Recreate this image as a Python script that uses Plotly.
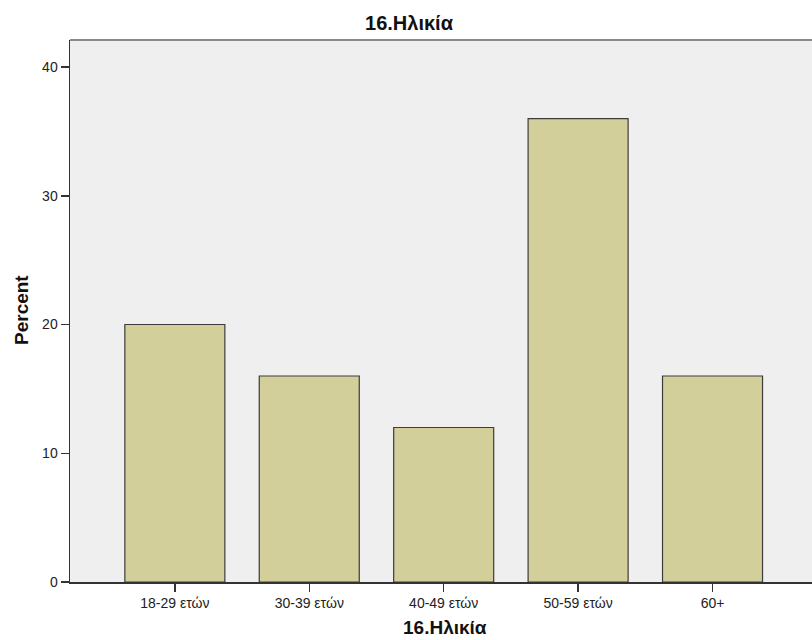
import plotly.graph_objects as go

categories = ["18-29 ετών", "30-39 ετών", "40-49 ετών", "50-59 ετών", "60+"]
percent = [20, 16, 12, 36, 16]
y_ticks = [0, 10, 20, 30, 40]
chart_title = "16.Ηλικία"
x_title = "16.Ηλικία"
y_title = "Percent"

FONT = "Liberation Sans, Arial, sans-serif"

W, H = 812, 640
ML, MT, MB = 70, 40, 58

fig = go.Figure(
    go.Bar(
        x=list(range(len(categories))),
        y=percent,
        width=0.744,
        marker=dict(color="#D3CF9A", line=dict(color="#3c3c3c", width=1.2)),
        hoverinfo="skip",
    )
)

plot_h = H - MT - MB
plot_w = W - ML

fig.update_layout(
    width=W,
    height=H,
    margin=dict(l=ML, r=0, t=MT, b=MB, pad=0),
    paper_bgcolor="white",
    plot_bgcolor="#EFEFEF",
    showlegend=False,
    font=dict(family=FONT, color="#222"),
    title=dict(
        text=chart_title,
        x=409 / W,
        xref="container",
        y=1 - 23 / H,
        yref="container",
        xanchor="center",
        yanchor="middle",
        font=dict(family=FONT, size=20, color="#111", weight="bold"),
    ),
    xaxis=dict(
        range=[-0.78, 4.74],
        tickmode="array",
        tickvals=list(range(len(categories))),
        ticktext=categories,
        ticks="outside",
        ticklen=8,
        tickcolor="#333",
        tickwidth=1.5,
        showline=True,
        linecolor="#333",
        linewidth=1.5,
        showgrid=False,
        zeroline=False,
        tickfont=dict(family=FONT, size=14, color="#222"),
        fixedrange=True,
    ),
    yaxis=dict(
        range=[0, 42.1],
        tickmode="array",
        tickvals=y_ticks,
        ticktext=[str(v) for v in y_ticks],
        ticks="outside",
        ticklen=8,
        tickcolor="#333",
        tickwidth=1.5,
        showline=True,
        linecolor="#333",
        linewidth=1.5,
        showgrid=False,
        zeroline=False,
        tickfont=dict(family=FONT, size=14, color="#222"),
        fixedrange=True,
    ),
    shapes=[
        dict(
            type="line", xref="paper", yref="paper",
            x0=0, x1=1, y0=1, y1=1,
            line=dict(color="#8a8a8a", width=2),
        )
    ],
    annotations=[
        dict(
            text=x_title, xref="paper", yref="paper",
            x=(445 - ML) / plot_w, y=(582 - 627) / plot_h,
            xanchor="center", yanchor="middle", showarrow=False,
            font=dict(family=FONT, size=19, color="#111", weight="bold"),
        ),
        dict(
            text=y_title, xref="paper", yref="paper",
            x=(21 - ML) / plot_w, y=(582 - 310) / plot_h,
            xanchor="center", yanchor="middle", showarrow=False,
            textangle=-90,
            font=dict(family=FONT, size=19, color="#111", weight="bold"),
        ),
    ],
)

fig.write_html(
    "out.html",
    config={"displayModeBar": False, "staticPlot": True},
    post_script="document.body.style.margin='0';document.body.style.overflow='hidden';",
)
